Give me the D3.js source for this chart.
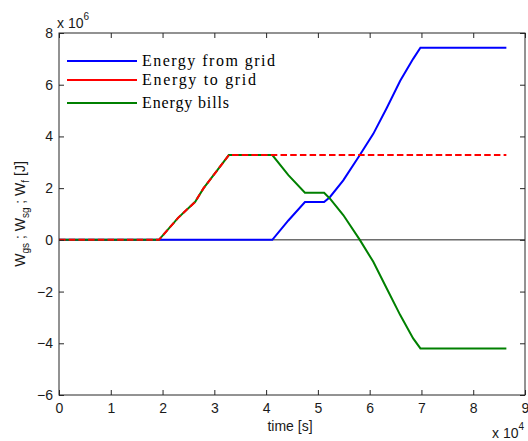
<!DOCTYPE html>
<html><head><meta charset="utf-8">
<script src="https://cdn.jsdelivr.net/npm/d3@7"></script>
<style>body{margin:0;background:#fff}svg{display:block}</style>
</head><body>
<svg id="c" width="528" height="441"></svg>
<script>
// time in units of 1e4 s, energy in units of 1e6 J
const xTicks = [0,1,2,3,4,5,6,7,8,9];
const yTicks = [-6,-4,-2,0,2,4,6,8];
const seriesNames = ["Energy from grid","Energy to grid","Energy bills"];
const fromGrid = [[0,0],[4.12,0],[4.43,0.75],[4.75,1.46],[5.12,1.46],[5.23,1.65],[5.49,2.3],[5.81,3.28],[6.07,4.1],[6.33,5.1],[6.59,6.15],[6.84,7.0],[6.98,7.43],[8.64,7.43]];
const toGrid = [[0,0],[1.93,0],[2.3,0.85],[2.63,1.47],[2.79,1.99],[3.11,2.83],[3.28,3.28],[8.64,3.28]];
const bills = [[0,0],[1.93,0],[2.3,0.85],[2.63,1.47],[2.79,1.99],[3.11,2.83],[3.28,3.28],[4.12,3.28],[4.43,2.5],[4.75,1.82],[5.12,1.82],[5.23,1.6],[5.49,0.96],[5.81,0],[6.07,-0.85],[6.33,-1.88],[6.59,-2.91],[6.84,-3.81],[6.98,-4.2],[8.64,-4.2]];

const svg = d3.select("#c");
const L=59, R=525, T=33, B=395;
const x = d3.scaleLinear().domain([0,9]).range([L,R]);
const y = d3.scaleLinear().domain([-6,8]).range([B,T]);
const axisColor="#262626";
const sans="'Liberation Sans', Arial, sans-serif";
const fs="14px";

// zero line
svg.append("line").attr("x1",L).attr("x2",R).attr("y1",y(0)).attr("y2",y(0))
  .attr("stroke","#222").attr("stroke-width",1);

const line = d3.line().x(d=>x(d[0])).y(d=>y(d[1]));
svg.append("path").datum(fromGrid).attr("d",line).attr("fill","none").attr("stroke","#0000ff").attr("stroke-width",2);
svg.append("path").datum(bills).attr("d",line).attr("fill","none").attr("stroke","#008000").attr("stroke-width",2);
svg.append("path").datum(toGrid).attr("d",line).attr("fill","none").attr("stroke","#ff0000").attr("stroke-width",2).attr("stroke-dasharray","6.5,3.2");

// axes with inside ticks
function styleAxis(g){
  g.select(".domain").remove();
  g.selectAll(".tick line").attr("stroke",axisColor);
  g.selectAll(".tick text").attr("fill","#1a1a1a").style("font-family",sans).style("font-size",fs);
}
svg.append("g").attr("transform",`translate(0,${B})`)
  .call(d3.axisBottom(x).tickValues(xTicks).tickFormat(d3.format("d")).tickSizeInner(-5).tickPadding(8))
  .call(styleAxis);
svg.append("g").attr("transform",`translate(0,${T})`)
  .call(d3.axisTop(x).tickValues(xTicks).tickFormat("").tickSizeInner(-5)).call(styleAxis);
svg.append("g").attr("transform",`translate(${L},0)`)
  .call(d3.axisLeft(y).tickValues(yTicks).tickFormat(d3.format("d")).tickSizeInner(-5).tickPadding(6))
  .call(styleAxis);
svg.append("g").attr("transform",`translate(${R},0)`)
  .call(d3.axisRight(y).tickValues(yTicks).tickFormat("").tickSizeInner(-5)).call(styleAxis);
svg.append("rect").attr("x",L).attr("y",T).attr("width",R-L).attr("height",B-T)
  .attr("fill","none").attr("stroke",axisColor).attr("stroke-width",1);

// exponents
const e1 = svg.append("text").attr("x",57).attr("y",28).style("font-family",sans).style("font-size",fs).attr("fill","#1a1a1a");
e1.append("tspan").text("x 10");
e1.append("tspan").attr("dy",-8).style("font-size","10px").text("6");
const e2 = svg.append("text").attr("x",492).attr("y",438).style("font-family",sans).style("font-size",fs).attr("fill","#1a1a1a");
e2.append("tspan").text("x 10");
e2.append("tspan").attr("dy",-8).style("font-size","10px").text("4");

// axis labels
svg.append("text").attr("x",290).attr("y",431).attr("text-anchor","middle")
  .style("font-family",sans).style("font-size",fs).attr("fill","#1a1a1a").text("time [s]");
const yl = svg.append("text").attr("transform",`translate(25,${(T+B)/2}) rotate(-90)`).attr("text-anchor","middle")
  .style("font-family",sans).style("font-size",fs).attr("fill","#1a1a1a");
yl.append("tspan").text("W");
yl.append("tspan").attr("dy",4).style("font-size","10px").text("gs");
yl.append("tspan").attr("dy",-4).text(" ; W");
yl.append("tspan").attr("dy",4).style("font-size","10px").text("sg");
yl.append("tspan").attr("dy",-4).text(" ; W");
yl.append("tspan").attr("dy",4).style("font-size","10px").text("f");
yl.append("tspan").attr("dy",-4).text("   [J]");

// legend
const legColors=["#0000ff","#ff0000","#008000"];
const legY=[61,80,103];
const legW=[133,114,87];
seriesNames.forEach((n,i)=>{
  svg.append("line").attr("x1",67).attr("x2",137).attr("y1",legY[i]).attr("y2",legY[i])
    .attr("stroke",legColors[i]).attr("stroke-width",2);
  svg.append("text").attr("x",142).attr("y",legY[i]+5)
    .attr("textLength",legW[i]).attr("lengthAdjust","spacing")
    .style("font-family","'Liberation Serif','Times New Roman',serif").style("font-size","16px").attr("fill","#000").text(n);
});
</script>
</body></html>
